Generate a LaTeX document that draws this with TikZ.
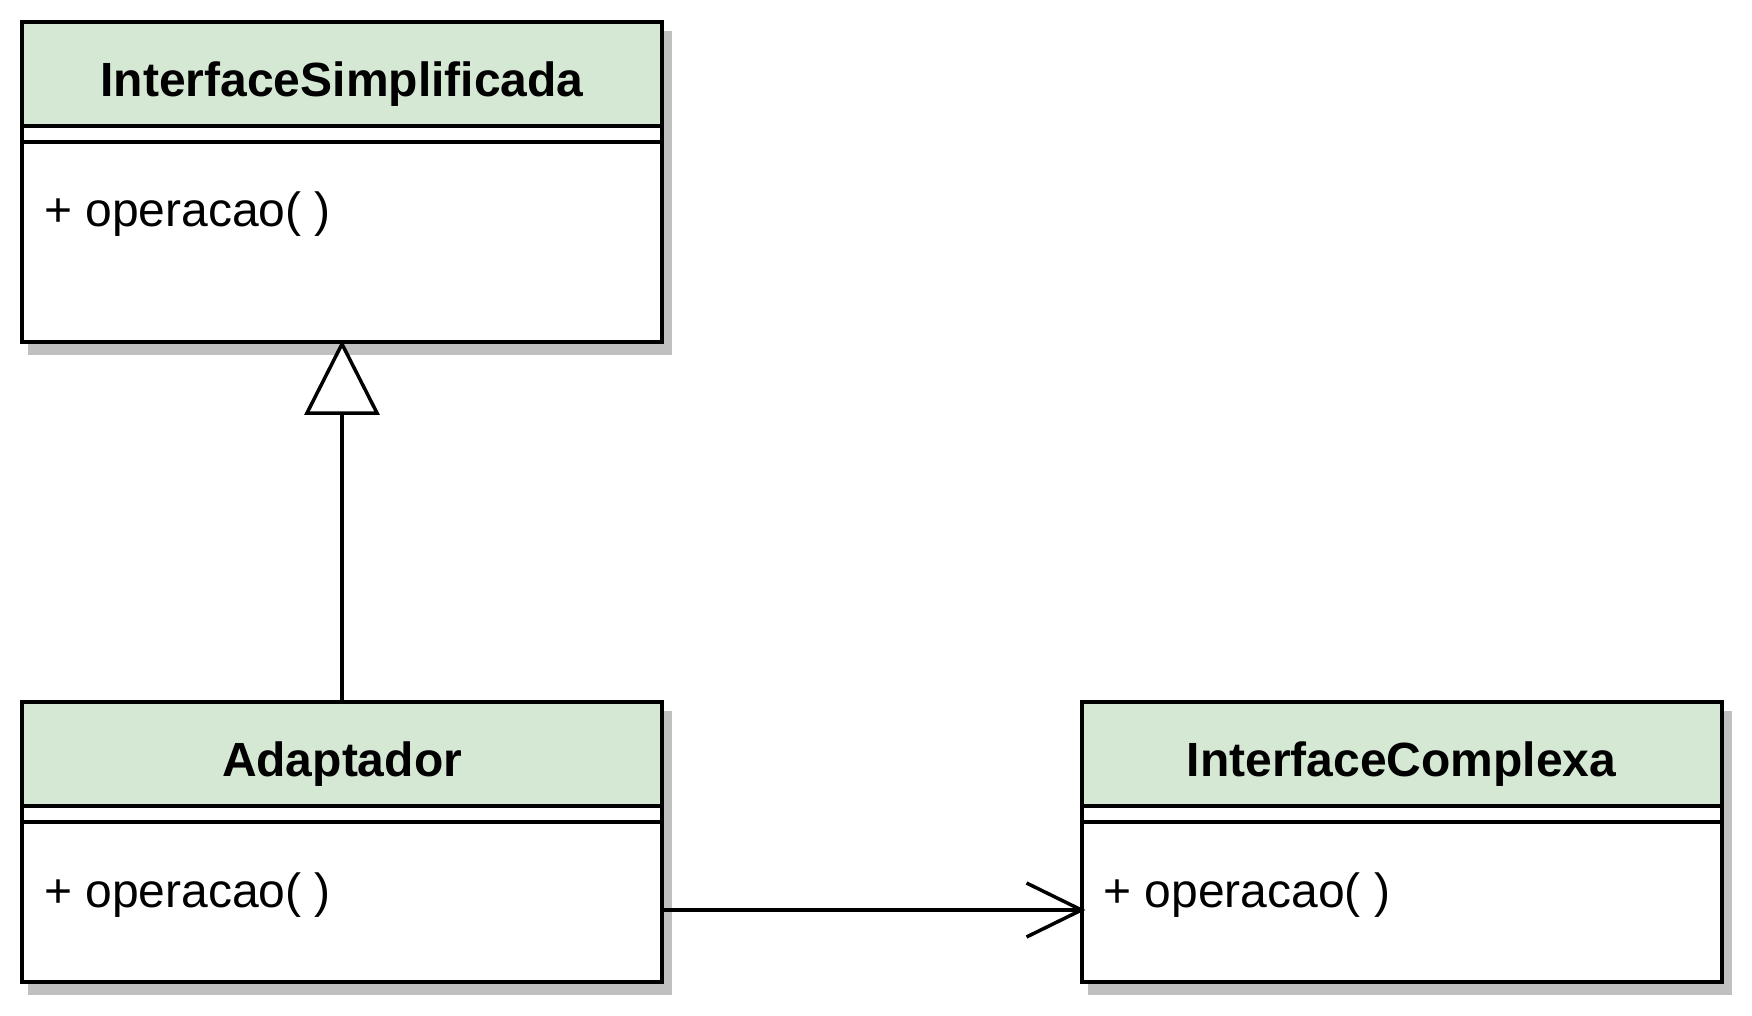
\documentclass[tikz,border=0pt]{standalone}
\usepackage{fontspec}
\setmainfont{Liberation Sans}
\definecolor{hdrgreen}{HTML}{D5E8D4}
\definecolor{shadowgray}{HTML}{C0C0C0}
\begin{document}
\begin{tikzpicture}[x=1pt,y=-1pt,
  clsbox/.style={draw, line width=4pt, fill=white, minimum width=640pt, inner sep=0pt, outer sep=0pt},
  hdr/.style={draw, line width=4pt, fill=hdrgreen, minimum width=640pt, minimum height=104pt,
    inner sep=0pt, outer sep=0pt, text height=45pt, text depth=0pt,
    font=\fontsize{48}{58}\selectfont\bfseries},
  meth/.style={inner sep=0pt, outer sep=0pt, anchor=base west, font=\fontsize{48}{58}\selectfont},
  divider/.style={line width=4pt},
  conn/.style={line width=3.5pt, line join=miter}]
\useasboundingbox (0,0) rectangle (1752,1016);

% class box frames (positions)
\node[clsbox, minimum height=320pt, fill=none, draw=none] (c1) at (342,182) {};
\node[clsbox, minimum height=280pt, fill=none, draw=none] (c2) at (342,842) {};
\node[clsbox, minimum height=280pt, fill=none, draw=none] (c3) at (1401.5,842) {};

% shadows
\foreach \c in {c1,c2,c3}{
  \fill[shadowgray] ([shift={(6,9)}]\c.north west) rectangle ([shift={(10,13)}]\c.south east);
}

% boxes
\node[clsbox, minimum height=320pt] (b1) at (c1) {};
\node[clsbox, minimum height=280pt] (b2) at (c2) {};
\node[clsbox, minimum height=280pt] (b3) at (c3) {};

% headers
\node[hdr] (h1) at (342,74) {InterfaceSimplificada};
\node[hdr] (h2) at (342,754) {Adaptador};
\node[hdr] (h3) at (1401.5,754) {InterfaceComplexa};

% second divider lines
\foreach \h in {h1,h2,h3}{
  \draw[divider] ([yshift=-16pt]\h.south west) -- ([yshift=-16pt]\h.south east);
}

% methods
\node[meth] (m1) at ([xshift=22pt, yshift=-101pt]h1.south west) {+ operacao( )};
\node[meth] (m2) at ([xshift=22pt, yshift=-101pt]h2.south west) {+ operacao( )};
\node[meth] (m3) at ([xshift=22pt, yshift=-101pt]h3.south west) {+ operacao( )};

% generalization
\coordinate (tip) at ([yshift=-2pt]b1.south);
\coordinate (tbase) at ([yshift=-71pt]b1.south);
\draw[conn] (tbase) -- (b2.north);
\draw[conn, fill=white] (tip) -- ++(-35,69) -- ++(70,0) -- cycle;

% association
\coordinate (as) at ([yshift=-68pt]b2.east);
\coordinate (ae) at (b3.west |- as);
\draw[conn] (as) -- (ae);
\draw[conn] ([shift={(-55,-27)}]ae) -- (ae) -- ([shift={(-55,27)}]ae);
\end{tikzpicture}
\end{document}
